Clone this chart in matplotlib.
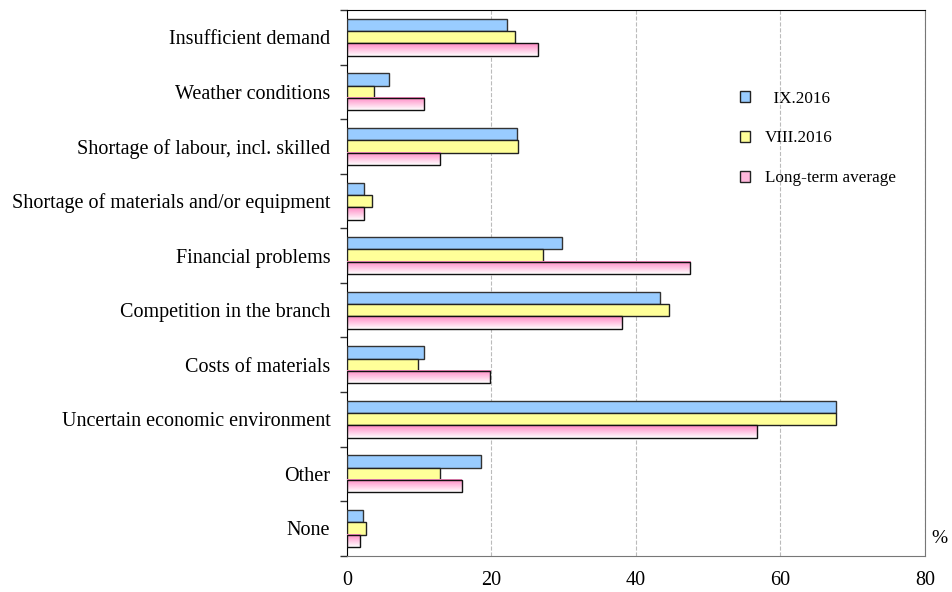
import matplotlib.pyplot as plt
import numpy as np
from matplotlib.colors import LinearSegmentedColormap
from matplotlib.patches import Patch

categorias = ["Insufficient demand", "Weather conditions", "Shortage of labour, incl. skilled",
              "Shortage of materials and/or equipment", "Financial problems",
              "Competition in the branch", "Costs of materials",
              "Uncertain economic environment", "Other", "None"]
sep2016 = [22.2, 5.8, 23.5, 2.4, 29.7, 43.3, 10.7, 67.7, 18.5, 2.2]
ago2016 = [23.3, 3.8, 23.7, 3.4, 27.1, 44.6, 9.8, 67.7, 12.9, 2.6]
promedio = [26.4, 10.7, 12.9, 2.3, 47.5, 38.1, 19.8, 56.7, 15.9, 1.8]
series = ["  IX.2016", "VIII.2016", "Long-term average"]

plt.rcParams['font.family'] = ['Liberation Serif', 'DejaVu Serif']

fig = plt.figure(figsize=(9.52, 5.92), dpi=100)
ax = fig.add_axes([0.3645, 0.0613, 0.607, 0.9218])

y = np.arange(len(categorias))
h = 0.226

ax.barh(y - h, sep2016, height=h, color="#99CCFF", edgecolor="#333333", linewidth=1, zorder=3)
ax.barh(y, ago2016, height=h, color="#FFFF99", edgecolor="#222222", linewidth=1, zorder=3)

# barras rosadas con degradado
rosa = LinearSegmentedColormap.from_list("rosa", ["#FF88C4", "#FFFFFF"])
grad = np.linspace(0, 1, 64).reshape(-1, 1)
for yi, v in zip(y + h, promedio):
    ax.imshow(grad, extent=[0, v, yi + h / 2, yi - h / 2], cmap=rosa,
              aspect='auto', origin='upper', zorder=3)
ax.barh(y + h, promedio, height=h, color="none", edgecolor="#111111", linewidth=1, zorder=4)

ax.set_xlim(0, 80)
ax.set_ylim(len(categorias) - 0.5, -0.5)
ax.set_aspect('auto')
ax.set_xticks([0, 20, 40, 60, 80])
ax.tick_params(axis='x', length=0, pad=11, labelsize=14.5)
ax.set_yticks(y)
ax.set_yticklabels(categorias, fontsize=14.5)
ax.tick_params(axis='y', which='major', length=0, pad=12)
ax.set_yticks(np.arange(-0.5, len(categorias)), minor=True)
ax.tick_params(axis='y', which='minor', length=5, width=1, color='#333333')
ax.grid(axis='x', linestyle='--', color='#BBBBBB', linewidth=0.8, zorder=0)

for lado in ['top', 'left']:
    ax.spines[lado].set_color('black')
for lado in ['right', 'bottom']:
    ax.spines[lado].set_color('#777777')

ax.text(1.012, 0.032, "%", transform=ax.transAxes, fontsize=14, ha='left', va='center')

handles = [Patch(facecolor="#99CCFF", edgecolor="#222222"),
           Patch(facecolor="#FFFF99", edgecolor="#222222"),
           Patch(facecolor="#FFB8DC", edgecolor="#222222")]
ax.legend(handles, series, loc='upper left', bbox_to_anchor=(0.668, 0.865), frameon=False,
          fontsize=12.3, labelspacing=1.4, handlelength=0.6, handleheight=0.6,
          handletextpad=0.85, borderaxespad=0)

plt.savefig("out.png", dpi=100)
